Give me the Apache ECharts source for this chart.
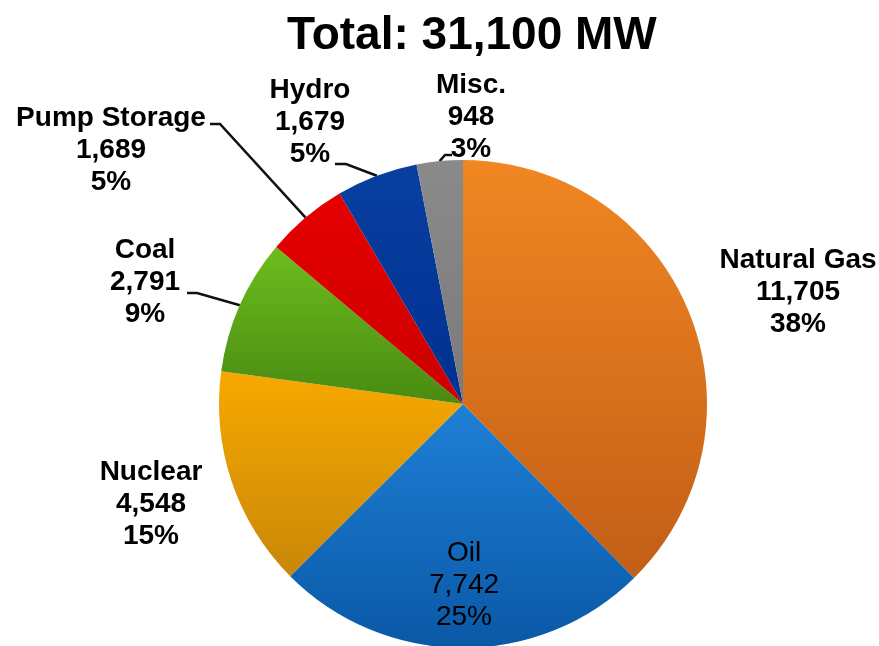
<!DOCTYPE html>
<html>
<head>
<meta charset="utf-8">
<script src="https://cdn.jsdelivr.net/npm/echarts/dist/echarts.min.js"></script>
<style>
  html, body { margin: 0; background: #fff; }
  #chart { width: 879px; height: 646px; }
</style>
</head>
<body>
<div id="chart"></div>
<script>
const sources = ['Natural Gas', 'Oil', 'Nuclear', 'Coal', 'Pump Storage', 'Hydro', 'Misc.'];
const capacityMW = [11705, 7742, 4548, 2791, 1689, 1679, 948];
const titleText = 'Total: 31,100 MW';

// top / bottom colour of each slice gradient
const sliceColors = [
  ['#f08722', '#c25e17'],
  ['#1f80d6', '#0a58a6'],
  ['#f7a900', '#c98708'],
  ['#6cbd1d', '#4a8a12'],
  ['#e60000', '#cc0000'],
  ['#083fa0', '#003090'],
  ['#8a8a8a', '#7a7a7a']
];

// where each label sits, plus the elbow / end of its leader line
const labelSpots = {
  'Natural Gas': { x: 798, y: 292 },
  'Oil': { x: 464, y: 585 },
  'Nuclear': { x: 151, y: 504 },
  'Coal': { x: 145, y: 282, elbow: [197, 293], end: [187, 293] },
  'Pump Storage': { x: 111, y: 150, elbow: [220, 124], end: [210, 124] },
  'Hydro': { x: 310, y: 122, elbow: [346, 164], end: [335, 164] },
  'Misc.': { x: 471, y: 117, elbow: [445, 155], end: [452, 155] }
};

const pieData = sources.map((name, i) => ({
  name: name,
  value: capacityMW[i],
  itemStyle: {
    color: {
      type: 'linear', x: 0, y: 0, x2: 0, y2: 1,
      colorStops: [
        { offset: 0, color: sliceColors[i][0] },
        { offset: 1, color: sliceColors[i][1] }
      ]
    }
  },
  label: { fontWeight: name === 'Oil' ? 'normal' : 'bold' },
  labelLine: { show: !!labelSpots[name].elbow }
}));

const chart = echarts.init(document.getElementById('chart'));

chart.setOption({
  animation: false,
  title: {
    text: titleText,
    left: 282,
    top: 8,
    textStyle: {
      fontFamily: 'Liberation Sans, Arial, sans-serif',
      fontSize: 46,
      fontWeight: 'bold',
      color: '#000'
    }
  },
  series: [
    {
      type: 'pie',
      center: [463, 404],
      radius: 244,
      startAngle: 90,
      clockwise: true,
      avoidLabelOverlap: false,
      emphasis: { disabled: true },
      data: pieData,
      label: {
        show: true,
        position: 'outside',
        fontFamily: 'Liberation Sans, Arial, sans-serif',
        fontSize: 28,
        lineHeight: 32,
        color: '#000',
        align: 'center',
        formatter: (p) => p.name + '\n' + p.value.toLocaleString('en-US') + '\n' + Math.round(p.percent) + '%'
      },
      labelLine: {
        show: true,
        length: 10,
        length2: 10,
        lineStyle: { color: '#111', width: 2.5 }
      },
      labelLayout: (params) => {
        const spot = labelSpots[sources[params.dataIndex]];
        const out = { x: spot.x, y: spot.y, align: 'center', verticalAlign: 'middle' };
        if (spot.elbow && params.labelLinePoints) {
          out.labelLinePoints = [params.labelLinePoints[0], spot.elbow, spot.end];
        }
        return out;
      }
    }
  ]
});
</script>
</body>
</html>
